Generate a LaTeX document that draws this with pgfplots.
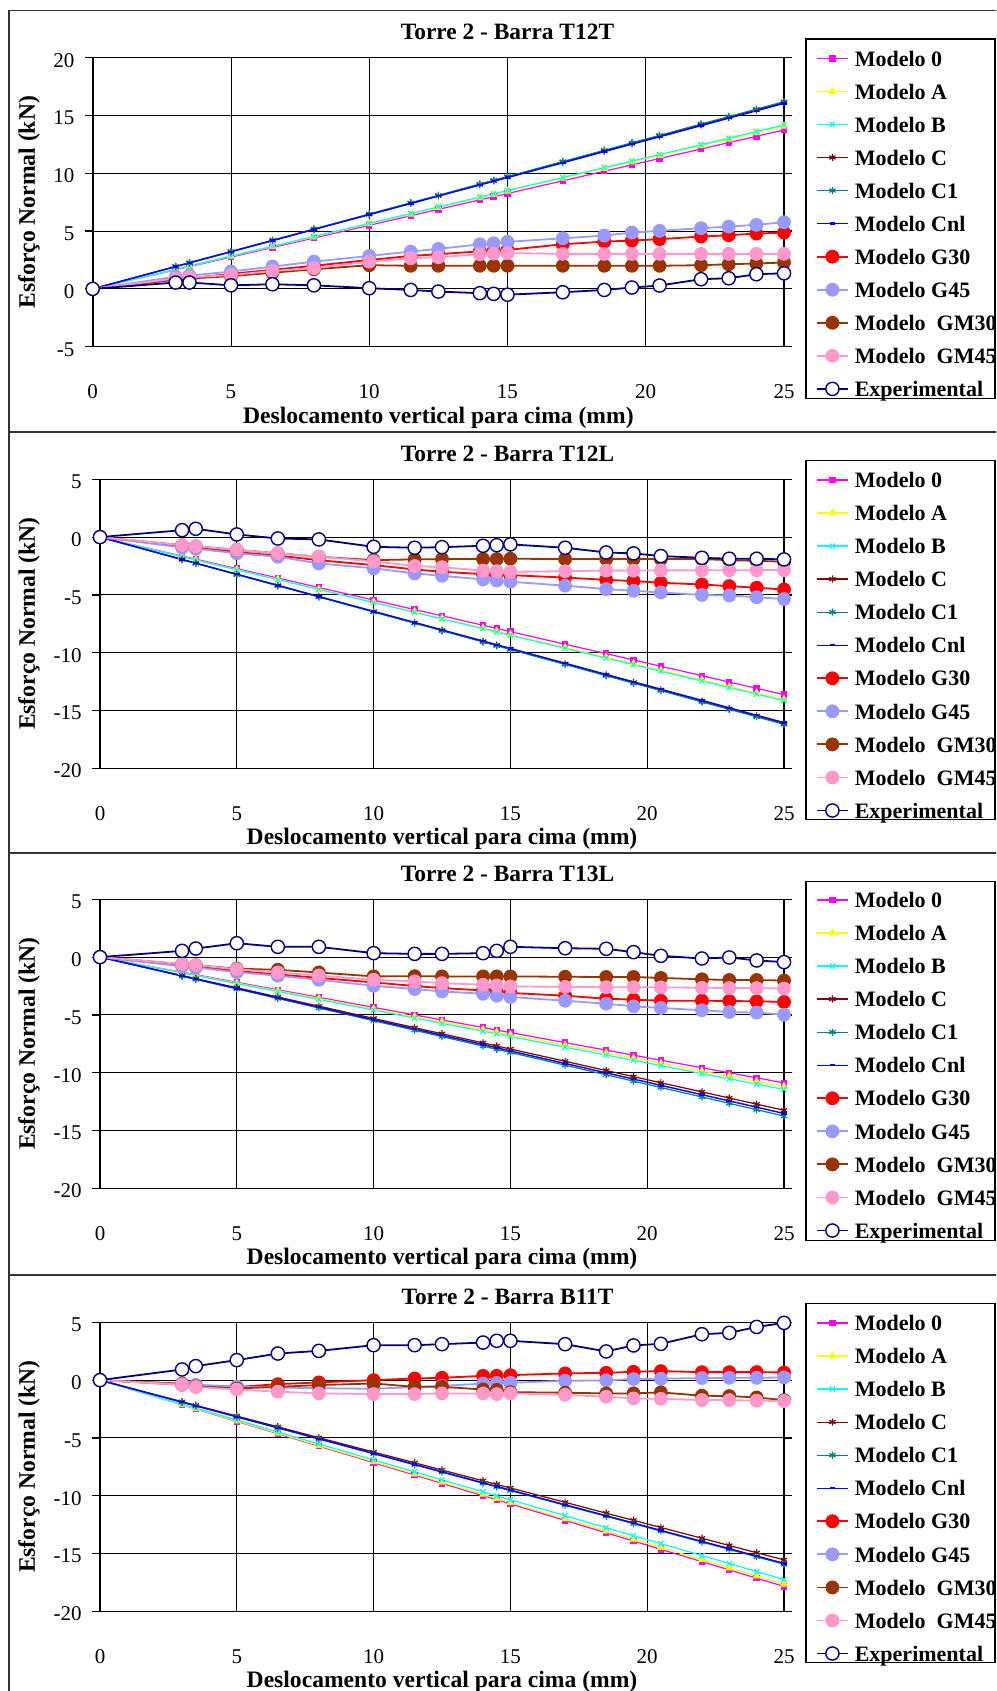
\documentclass[border=0pt]{standalone}
\usepackage{fontspec}
\setmainfont{Liberation Serif}
\usepackage{pgfplots}
\usepackage{pgfplotstable}
\pgfplotsset{compat=1.18}

\definecolor{cM0}{RGB}{255,0,255}
\definecolor{cA}{RGB}{255,255,0}
\definecolor{cB}{RGB}{0,255,255}
\definecolor{cC}{RGB}{128,0,0}
\definecolor{cC1}{RGB}{0,128,128}
\definecolor{cCnl}{RGB}{0,0,255}
\definecolor{cG30}{RGB}{255,0,0}
\definecolor{cG45}{RGB}{153,153,255}
\definecolor{cGM30}{RGB}{153,51,0}
\definecolor{cGM45}{RGB}{255,153,204}
\definecolor{cExp}{RGB}{0,0,128}

\pgfplotstableread{
x     m0      mA      mB      mC      mC1     mCnl    g30    g45    gm30   gm45   exp
0     0       0       0       0       0       0       0      0      0      0      0
3     1.65    1.69    1.70    1.94    1.94    1.93    0.80   1.05   0.80   0.90   0.55
3.5   1.93    1.97    1.98    2.26    2.27    2.25    0.92   1.15   0.90   1.00   0.55
5     2.75    2.82    2.84    3.23    3.24    3.21    1.30   1.50   1.10   1.20   0.31
6.5   3.58    3.66    3.69    4.19    4.21    4.17    1.65   1.93   1.40   1.55   0.40
8     4.40    4.50    4.54    5.16    5.18    5.14    2.00   2.36   1.70   1.79   0.31
10    5.50    5.63    5.67    6.45    6.48    6.42    2.50   2.85   2.05   2.36   0.06
11.5  6.33    6.47    6.52    7.42    7.45    7.38    2.85   3.23   2.00   2.65   -0.09
12.5  6.88    7.04    7.09    8.06    8.10    8.03    3.00   3.46   2.00   2.74   -0.23
14    7.70    7.88    7.94    9.03    9.07    8.99    3.25   3.86   2.00   3.00   -0.37
14.5  7.98    8.16    8.22    9.35    9.40    9.31    3.30   3.95   2.00   3.05   -0.43
15    8.25    8.45    8.51    9.68    9.72    9.63    3.37   4.07   2.00   3.10   -0.50
17    9.35    9.57    9.64    10.97   11.02   10.91   3.86   4.38   2.00   3.03   -0.29
18.5  10.18   10.42   10.49   11.93   11.99   11.88   4.09   4.61   2.00   3.03   -0.09
19.5  10.73   10.98   11.06   12.58   12.64   12.52   4.18   4.87   2.00   3.03   0.12
20.5  11.28   11.54   11.62   13.22   13.28   13.16   4.30   5.02   2.00   3.03   0.29
22    12.10   12.39   12.47   14.19   14.26   14.12   4.53   5.25   2.05   3.03   0.84
23    12.65   12.95   13.04   14.84   14.90   14.77   4.64   5.39   2.13   3.03   0.92
24    13.20   13.51   13.61   15.48   15.55   15.41   4.79   5.54   2.20   3.03   1.27
25    13.75   14.08   14.18   16.13   16.20   16.05   4.87   5.77   2.28   3.03   1.35
}\tA

\pgfplotstableread{
x     m0      mA      mB      mC      mC1     mCnl    g30    g45    gm30   gm45   exp
0     0       0       0       0       0       0       0      0      0      0      0
3     -1.64   -1.69   -1.70   -1.94   -1.94   -1.93   -0.80  -0.90  -0.70  -0.70  0.60
3.5   -1.91   -1.97   -1.98   -2.26   -2.27   -2.25   -0.90  -1.00  -0.80  -0.80  0.72
5     -2.73   -2.81   -2.83   -3.23   -3.24   -3.21   -1.30  -1.40  -1.10  -1.10  0.23
6.5   -3.54   -3.65   -3.68   -4.19   -4.21   -4.17   -1.60  -1.70  -1.40  -1.40  -0.12
8     -4.36   -4.50   -4.53   -5.16   -5.18   -5.14   -2.00  -2.28  -1.70  -1.70  -0.20
10    -5.45   -5.62   -5.66   -6.45   -6.48   -6.42   -2.42  -2.70  -1.99  -2.10  -0.84
11.5  -6.27   -6.46   -6.51   -7.42   -7.45   -7.38   -2.80  -3.14  -1.93  -2.50  -0.92
12.5  -6.81   -7.03   -7.08   -8.06   -8.10   -8.03   -3.00  -3.35  -1.90  -2.60  -0.87
14    -7.63   -7.87   -7.92   -9.03   -9.07   -8.99   -3.20  -3.66  -1.90  -2.90  -0.75
14.5  -7.90   -8.15   -8.21   -9.35   -9.40   -9.31   -3.25  -3.75  -1.90  -2.95  -0.70
15    -8.18   -8.43   -8.49   -9.68   -9.72   -9.63   -3.29  -3.86  -1.87  -3.00  -0.63
17    -9.27   -9.55   -9.62   -10.97  -11.02  -10.91  -3.50  -4.20  -1.90  -2.95  -0.92
18.5  -10.08  -10.40  -10.47  -11.93  -11.99  -11.88  -3.70  -4.50  -1.90  -2.90  -1.33
19.5  -10.63  -10.96  -11.04  -12.58  -12.64  -12.52  -3.80  -4.64  -1.90  -2.90  -1.41
20.5  -11.17  -11.52  -11.60  -13.22  -13.28  -13.16  -3.95  -4.79  -1.90  -2.88  -1.64
22    -11.99  -12.36  -12.45  -14.19  -14.26  -14.12  -4.10  -5.00  -1.90  -2.88  -1.79
23    -12.54  -12.93  -13.02  -14.84  -14.90  -14.77  -4.24  -5.05  -2.00  -2.86  -1.87
24    -13.08  -13.49  -13.58  -15.48  -15.55  -15.41  -4.38  -5.20  -2.05  -2.86  -1.87
25    -13.63  -14.05  -14.15  -16.13  -16.20  -16.05  -4.53  -5.36  -2.13  -2.85  -1.93
}\tB

\pgfplotstableread{
x     m0      mA      mB      mC      mC1     mCnl    g30    g45    gm30   gm45   exp
0     0       0       0       0       0       0       0      0      0      0      0
3     -1.31   -1.34   -1.37   -1.59   -1.65   -1.62   -0.70  -0.80  -0.60  -0.60  0.54
3.5   -1.52   -1.57   -1.60   -1.86   -1.93   -1.89   -0.80  -0.90  -0.70  -0.70  0.74
5     -2.18   -2.24   -2.29   -2.65   -2.75   -2.71   -1.20  -1.30  -1.00  -1.04  1.20
6.5   -2.83   -2.91   -2.98   -3.45   -3.58   -3.52   -1.50  -1.61  -1.10  -1.33  0.89
8     -3.48   -3.58   -3.66   -4.24   -4.40   -4.33   -1.80  -1.96  -1.33  -1.59  0.89
10    -4.35   -4.48   -4.58   -5.30   -5.50   -5.41   -2.19  -2.48  -1.67  -1.96  0.34
11.5  -5.00   -5.15   -5.27   -6.10   -6.33   -6.22   -2.50  -2.76  -1.65  -2.10  0.28
12.5  -5.44   -5.60   -5.73   -6.63   -6.88   -6.76   -2.68  -2.97  -1.67  -2.25  0.28
14    -6.09   -6.27   -6.41   -7.42   -7.70   -7.57   -2.88  -3.17  -1.67  -2.39  0.34
14.5  -6.31   -6.50   -6.64   -7.69   -7.98   -7.84   -2.95  -3.34  -1.67  -2.45  0.54
15    -6.53   -6.72   -6.87   -7.95   -8.25   -8.12   -3.10  -3.45  -1.67  -2.53  0.89
17    -7.40   -7.62   -7.79   -9.01   -9.35   -9.20   -3.34  -3.77  -1.70  -2.58  0.77
18.5  -8.05   -8.29   -8.47   -9.81   -10.18  -10.01  -3.60  -4.03  -1.72  -2.60  0.72
19.5  -8.48   -8.74   -8.93   -10.34  -10.73  -10.55  -3.68  -4.26  -1.72  -2.60  0.43
20.5  -8.92   -9.18   -9.39   -10.87  -11.28  -11.09  -3.77  -4.40  -1.80  -2.62  0.11
22    -9.57   -9.86   -10.08  -11.66  -12.10  -11.90  -3.77  -4.60  -1.92  -2.65  -0.12
23    -10.01  -10.30  -10.53  -12.19  -12.65  -12.44  -3.80  -4.75  -1.98  -2.67  -0.03
24    -10.44  -10.75  -10.99  -12.72  -13.20  -12.98  -3.82  -4.80  -1.98  -2.68  -0.29
25    -10.88  -11.20  -11.45  -13.25  -13.75  -13.53  -3.88  -4.98  -2.03  -2.72  -0.43
}\tC

\pgfplotstableread{
x     m0      mA      mB      mC      mC1     mCnl    g30    g45    gm30   gm45   exp
0     0       0       0       0       0       0       0      0      0      0      0
3     -2.14   -2.12   -2.07   -1.87   -1.91   -1.90   -0.30  -0.35  -0.40  -0.40  0.92
3.5   -2.50   -2.47   -2.42   -2.18   -2.23   -2.22   -0.50  -0.40  -0.55  -0.60  1.21
5     -3.57   -3.53   -3.45   -3.11   -3.19   -3.17   -0.60  -0.55  -0.72  -0.81  1.73
6.5   -4.64   -4.59   -4.49   -4.04   -4.14   -4.12   -0.35  -0.65  -0.58  -1.00  2.30
8     -5.71   -5.65   -5.52   -4.98   -5.10   -5.07   -0.20  -0.70  -0.43  -1.15  2.53
10    -7.14   -7.06   -6.90   -6.22   -6.37   -6.34   0.00   -0.75  -0.29  -1.21  3.02
11.5  -8.21   -8.12   -7.94   -7.15   -7.33   -7.29   0.14   -0.60  -0.58  -1.21  3.02
12.5  -8.93   -8.83   -8.63   -7.78   -7.96   -7.93   0.20   -0.50  -0.58  -1.15  3.11
14    -10.00  -9.88   -9.66   -8.71   -8.92   -8.88   0.37   -0.30  -0.81  -1.15  3.25
14.5  -10.35  -10.24  -10.01  -9.02   -9.24   -9.19   0.37   -0.25  -0.85  -1.21  3.40
15    -10.71  -10.59  -10.35  -9.33   -9.56   -9.51   0.43   -0.23  -1.04  -1.15  3.40
17    -12.14  -12.00  -11.73  -10.57  -10.83  -10.78  0.58   -0.06  -1.09  -1.27  3.11
18.5  -13.21  -13.06  -12.77  -11.51  -11.78  -11.73  0.63   -0.02  -1.15  -1.44  2.48
19.5  -13.92  -13.77  -13.46  -12.13  -12.42  -12.36  0.72   0.09   -1.15  -1.58  3.00
20.5  -14.64  -14.47  -14.15  -12.75  -13.06  -13.00  0.78   0.12   -1.06  -1.62  3.14
22    -15.71  -15.53  -15.18  -13.68  -14.01  -13.95  0.69   0.18   -1.35  -1.73  3.97
23    -16.42  -16.24  -15.87  -14.31  -14.65  -14.58  0.69   0.20   -1.38  -1.73  4.09
24    -17.14  -16.94  -16.56  -14.93  -15.29  -15.22  0.69   0.20   -1.50  -1.78  4.60
25    -17.85  -17.65  -17.25  -15.55  -15.93  -15.85  0.66   0.23   -1.73  -1.81  4.95
}\tD

\pgfplotsset{
  every panel/.style={
    scale only axis, height=144.5pt,
    xmin=0, xmax=25, xtick={0,5,10,15,20,25},
    ytick distance=5,
    grid=major, major grid style={black, line width=0.45pt},
    axis line style={black, line width=0.8pt},
    tick align=outside, major tick length=3.8pt,
    xtick style={draw=none}, ytick style={black, line width=0.6pt},
    tick label style={font=\fontsize{10.5}{12}\selectfont},
    /pgf/number format/assume math mode=true,
    xticklabel style={anchor=base, yshift=-22.15pt},
    yticklabel style={xshift=-1.8pt, yshift=-1.3pt},
    label style={font=\fontsize{11.8}{14}\selectfont\bfseries},
    xlabel={Deslocamento vertical para cima (mm)},
    ylabel={Esforço Normal (kN)},
    xlabel style={at={(axis description cs:0.5,0)}, anchor=base, yshift=-38.3pt},
    ylabel style={anchor=center},
    clip=false,
    legend cell align=left,
    legend style={draw=none, fill=none, inner sep=0pt, outer sep=0pt, anchor=north west,
      font=\fontsize{11}{13}\selectfont\bfseries,
      row sep=4.43pt, column sep=3pt,
      nodes={inner sep=0pt, text height=9.9pt, text depth=2.2pt}},
    legend image code/.code={\draw[mark repeat=2,mark phase=2] plot coordinates {(0pt,0pt)(7.75pt,0pt)(15.5pt,0pt)};},
  },
  sM0/.style={color=cM0, line width=0.6pt, mark=square*, mark size=1.3pt, mark options={solid}},
  sA/.style={color=cA, line width=0.6pt, mark=triangle*, mark size=1.8pt, mark options={solid}},
  sB/.style={color=cB, line width=0.6pt, mark=x, mark size=1.8pt, mark options={solid, line width=0.6pt}},
  sC/.style={color=cC, line width=0.6pt, mark=asterisk, mark size=1.8pt, mark options={solid, line width=0.6pt}},
  sC1/.style={color=cC1, line width=0.6pt, mark=asterisk, mark size=1.8pt, mark options={solid, line width=0.6pt}},
  sCnl/.style={color=cCnl, line width=0.7pt, mark=-, mark size=1.4pt, mark options={solid, line width=1.2pt}},
  sG30/.style={color=cG30, line width=0.9pt, mark=*, mark size=3pt, mark options={solid}},
  sG45/.style={color=cG45, line width=0.9pt, mark=*, mark size=3pt, mark options={solid}},
  sGM30/.style={color=cGM30, line width=0.9pt, mark=*, mark size=3pt, mark options={solid}},
  sGM45/.style={color=cGM45, line width=0.9pt, mark=*, mark size=3pt, mark options={solid}},
  sExp/.style={color=cExp, line width=0.9pt, mark=*, mark size=3.3pt, mark options={solid, fill=white, draw=cExp, line width=0.7pt}},
}

\newcommand{\allplots}[1]{%
  \addplot[sM0] table[x=x,y=m0]{#1}; \addlegendentry{Modelo 0}
  \addplot[sA] table[x=x,y=mA]{#1}; \addlegendentry{Modelo A}
  \addplot[sB] table[x=x,y=mB]{#1}; \addlegendentry{Modelo B}
  \addplot[sC] table[x=x,y=mC]{#1}; \addlegendentry{Modelo C}
  \addplot[sC1] table[x=x,y=mC1]{#1}; \addlegendentry{Modelo C1}
  \addplot[sCnl] table[x=x,y=mCnl]{#1}; \addlegendentry{Modelo Cnl}
  \addplot[sG30] table[x=x,y=g30]{#1}; \addlegendentry{Modelo G30}
  \addplot[sG45] table[x=x,y=g45]{#1}; \addlegendentry{Modelo G45}
  \addplot[sGM30] table[x=x,y=gm30]{#1}; \addlegendentry{Modelo\ \ GM30}
  \addplot[sGM45] table[x=x,y=gm45]{#1}; \addlegendentry{Modelo\ \ GM45}
  \addplot[sExp] table[x=x,y=exp]{#1}; \addlegendentry{Experimental}
}

\begin{document}
\begin{tikzpicture}
\useasboundingbox (0,0) rectangle (498pt,-845.5pt);
\clip (0,0) rectangle (498pt,-845.5pt);
\fill[white] (0,0) rectangle (498pt,-845.5pt);

% panel frames
\draw[black!80, line width=0.8pt] (4.5pt,-860pt) -- (4.5pt,-5.35pt) -- (520pt,-5.35pt);
\draw[black!80, line width=0.8pt] (4.5pt,-216pt) -- (520pt,-216pt);
\draw[black!80, line width=0.8pt] (4.5pt,-426.35pt) -- (520pt,-426.35pt);
\draw[black!80, line width=0.8pt] (4.5pt,-637.5pt) -- (520pt,-637.5pt);

% legend frames
\draw[black, line width=0.6pt] (403pt,-19.5pt) rectangle (497.5pt,-199.15pt);
\draw[black, line width=0.6pt] (403pt,-230.25pt) rectangle (497.5pt,-409.9pt);
\draw[black, line width=0.6pt] (403pt,-440.6pt) rectangle (497.5pt,-620.25pt);
\draw[black, line width=0.6pt] (403pt,-651.75pt) rectangle (497.5pt,-831.4pt);

% titles
\begin{scope}[every node/.style={font=\fontsize{11.7}{14}\selectfont\bfseries}]
\node at (253.75pt,-16pt) {Torre 2 - Barra T12T};
\node at (253.75pt,-226.75pt) {Torre 2 - Barra T12L};
\node at (253.75pt,-437.1pt) {Torre 2 - Barra T13L};
\node at (253.75pt,-648.25pt) {Torre 2 - Barra B11T};
\end{scope}

\begin{axis}[every panel, at={(46.35pt,-28.85pt)}, anchor=north west, width=345.65pt,
  ymin=-5, ymax=20,
  ylabel style={at={(axis description cs:-0.0921,0.5)}},
  legend style={at={(1.04629,1.0398)}}]
\allplots{\tA}
\end{axis}

\begin{axis}[every panel, at={(50pt,-239.65pt)}, anchor=north west, width=342pt,
  ymin=-20, ymax=5,
  ylabel style={at={(axis description cs:-0.1038,0.5)}},
  legend style={at={(1.04678,1.0398)}}]
\allplots{\tB}
\end{axis}

\begin{axis}[every panel, at={(50pt,-449.65pt)}, anchor=north west, width=342pt,
  ymin=-20, ymax=5,
  ylabel style={at={(axis description cs:-0.1038,0.5)}},
  legend style={at={(1.04678,1.0398)}}]
\allplots{\tC}
\end{axis}

\begin{axis}[every panel, at={(50pt,-661.15pt)}, anchor=north west, width=342pt,
  ymin=-20, ymax=5,
  ylabel style={at={(axis description cs:-0.1038,0.5)}},
  legend style={at={(1.04678,1.0398)}}]
\allplots{\tD}
\end{axis}
\end{tikzpicture}
\end{document}
